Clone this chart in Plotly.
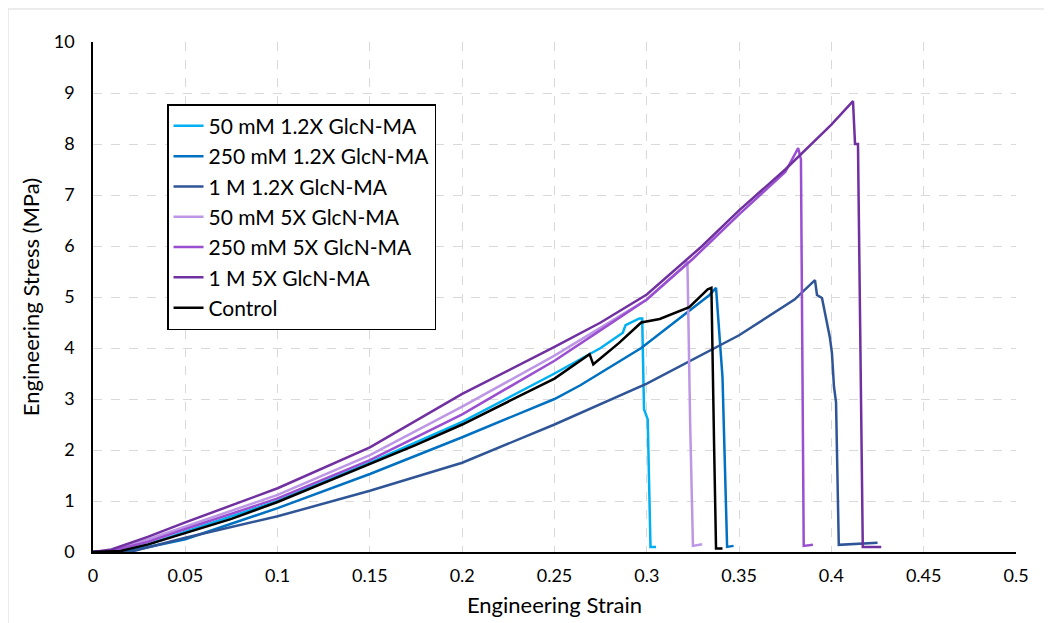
import plotly.graph_objects as go

# ---- data ----
s50_12_x = [0, 0.015, 0.03, 0.05, 0.1, 0.15, 0.2, 0.25, 0.275, 0.287, 0.2885, 0.296, 0.2975, 0.2985, 0.3005, 0.302, 0.305]
s50_12_y = [0, 0.02, 0.15, 0.4, 1.0, 1.75, 2.55, 3.5, 4.0, 4.3, 4.45, 4.58, 4.58, 2.8, 2.6, 0.1, 0.1]

s250_12_x = [0, 0.02, 0.05, 0.1, 0.15, 0.2, 0.25, 0.264, 0.297, 0.334, 0.3375, 0.341, 0.3435, 0.347]
s250_12_y = [0, 0.02, 0.25, 0.86, 1.53, 2.25, 3.0, 3.27, 4.0, 5.04, 5.18, 3.43, 0.1, 0.12]

s1M_12_x = [0, 0.02, 0.05, 0.1, 0.15, 0.2, 0.25, 0.3, 0.35, 0.38, 0.3911, 0.3922, 0.3949, 0.397, 0.3992, 0.4003, 0.4014, 0.4025, 0.404, 0.425]
s1M_12_y = [0, 0.0, 0.28, 0.7, 1.2, 1.75, 2.5, 3.3, 4.25, 4.95, 5.33, 5.04, 4.98, 4.59, 4.2, 3.9, 3.24, 2.94, 0.14, 0.18]

s50_5_x = [0, 0.01, 0.03, 0.05, 0.1, 0.15, 0.2, 0.25, 0.275, 0.3, 0.32, 0.322, 0.3235, 0.325, 0.33]
s50_5_y = [0, 0.03, 0.25, 0.5, 1.12, 1.9, 2.85, 3.85, 4.4, 4.95, 5.6, 5.7, 2.5, 0.12, 0.15]

s250_5_x = [0, 0.01, 0.03, 0.05, 0.1, 0.15, 0.2, 0.25, 0.275, 0.3, 0.325, 0.35, 0.375, 0.382, 0.3835, 0.385, 0.39]
s250_5_y = [0, 0.02, 0.2, 0.45, 1.05, 1.8, 2.7, 3.75, 4.35, 4.95, 5.75, 6.62, 7.45, 7.92, 7.7, 0.12, 0.14]

s1M_5_x = [0, 0.01, 0.03, 0.05, 0.1, 0.15, 0.2, 0.25, 0.275, 0.3, 0.33, 0.35, 0.375, 0.389, 0.4, 0.4117, 0.4128, 0.4144, 0.4166, 0.417, 0.427]
s1M_5_y = [0, 0.05, 0.3, 0.58, 1.25, 2.05, 3.1, 4.02, 4.5, 5.05, 6.0, 6.7, 7.5, 8.0, 8.38, 8.84, 8.0, 8.0, 0.3, 0.1, 0.1]

ctrl_x = [0, 0.015, 0.03, 0.05, 0.075, 0.1, 0.125, 0.15, 0.175, 0.2, 0.225, 0.25, 0.269, 0.271, 0.285, 0.297, 0.307, 0.323, 0.333, 0.335, 0.3365, 0.3375, 0.341]
ctrl_y = [0, 0.02, 0.15, 0.37, 0.65, 0.98, 1.35, 1.72, 2.1, 2.5, 2.95, 3.4, 3.88, 3.68, 4.1, 4.5, 4.57, 4.8, 5.15, 5.18, 2.0, 0.07, 0.07]

series = [
    ("50 mM 1.2X GlcN-MA", s50_12_x, s50_12_y, "#00B0F0"),
    ("250 mM 1.2X GlcN-MA", s250_12_x, s250_12_y, "#0070C0"),
    ("1 M 1.2X GlcN-MA", s1M_12_x, s1M_12_y, "#2F5597"),
    ("50 mM 5X GlcN-MA", s50_5_x, s50_5_y, "#BE96E6"),
    ("250 mM 5X GlcN-MA", s250_5_x, s250_5_y, "#9A4FD0"),
    ("1 M 5X GlcN-MA", s1M_5_x, s1M_5_y, "#7030A0"),
    ("Control", ctrl_x, ctrl_y, "#000000"),
]

fig = go.Figure()
for name, xs, ys, col in series:
    fig.add_trace(go.Scatter(x=xs, y=ys, mode="lines", name=name,
                             line=dict(color=col, width=2.5)))

font_family = "Lato, 'Open Sans', sans-serif"
fig.update_layout(
    width=1052, height=623,
    margin=dict(l=85, r=44, t=34, b=79),
    paper_bgcolor="white", plot_bgcolor="white",
    font=dict(family=font_family, size=18, color="#000000"),
    showlegend=True,
    legend=dict(x=0.0802, y=0.878, xanchor="left", yanchor="top",
                bgcolor="white", bordercolor="#000000", borderwidth=1.5,
                font=dict(size=21, color="#000000"),
                itemwidth=30),
    xaxis=dict(range=[0, 0.5], dtick=0.05, tick0=0,
               showgrid=True, gridcolor="#D9D9D9", griddash="dash", gridwidth=1,
               showline=True, linecolor="#000000", linewidth=1.5,
               zeroline=False, ticks="", ticklen=0, ticklabelstandoff=7,
               title=dict(text="Engineering Strain", font=dict(size=22), standoff=12),
               tickfont=dict(size=18)),
    yaxis=dict(range=[0, 10], dtick=1, tick0=0,
               showgrid=True, gridcolor="#D9D9D9", griddash="dash", gridwidth=1,
               showline=True, linecolor="#000000", linewidth=1.5,
               zeroline=False, ticks="", ticklen=0, ticklabelstandoff=13,
               title=dict(text="Engineering Stress (MPa)", font=dict(size=22), standoff=8),
               tickfont=dict(size=18)),
    shapes=[dict(type="rect", xref="paper", yref="paper",
                 x0=-0.0921, x1=1.2, y0=-0.3, y1=1.0647,
                 line=dict(color="#D9D9D9", width=1), layer="below")],
)

fig.write_html("out.html")
